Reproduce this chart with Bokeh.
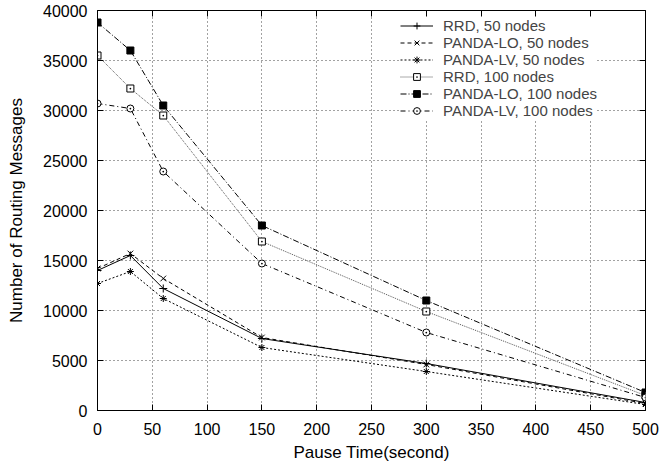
from bokeh.plotting import figure
from bokeh.models import Range1d, LinearAxis, FixedTicker, Legend, LegendItem, CustomJSTickFormatter
from bokeh.embed import file_html
from bokeh.resources import INLINE

pause = [0, 30, 60, 150, 300, 500]
rrd_50 = [14000, 15500, 12200, 7200, 4700, 800]
lo_50 = [14200, 15700, 13200, 7300, 4600, 700]
lv_50 = [12700, 13900, 11200, 6300, 3900, 600]
rrd_100 = [35500, 32200, 29500, 16900, 9900, 1500]
lo_100 = [38800, 36000, 30500, 18500, 11000, 1800]
lv_100 = [30700, 30200, 23900, 14700, 7800, 1300]

x_ticks = [0, 50, 100, 150, 200, 250, 300, 350, 400, 450, 500]
y_ticks = [0, 5000, 10000, 15000, 20000, 25000, 30000, 35000, 40000]

FONT = "Liberation Sans"

p = figure(width=659, height=465, output_backend="svg", toolbar_location=None,
           x_range=Range1d(0, 500), y_range=Range1d(0, 40000),
           min_border_left=97, min_border_right=14, min_border_top=10, min_border_bottom=55)
p.outline_line_color = "black"
p.outline_line_width = 1
p.background_fill_color = "white"
p.border_fill_color = "white"

for ax, ticks in ((p.xaxis[0], x_ticks), (p.yaxis[0], y_ticks)):
    ax.ticker = FixedTicker(ticks=ticks)
    ax.major_tick_in = 6
    ax.major_tick_out = 0
    ax.minor_tick_line_color = None
    ax.axis_line_color = "black"
    ax.major_label_text_font = FONT
    ax.major_label_text_font_size = "16px"
    ax.major_label_text_color = "black"
    ax.axis_label_text_font = FONT
    ax.axis_label_text_font_size = "17px"
    ax.axis_label_text_font_style = "normal"
    ax.axis_label_text_color = "black"

p.xaxis.axis_label = "Pause Time(second)"
p.yaxis.axis_label = "Number of Routing Messages"
p.xaxis.major_label_standoff = 12
p.yaxis.major_label_standoff = 10
p.xaxis.axis_label_standoff = 5
p.yaxis.axis_label_standoff = 14

for loc, ticks in (("above", x_ticks), ("right", y_ticks)):
    ax = LinearAxis(ticker=FixedTicker(ticks=ticks),
                    formatter=CustomJSTickFormatter(code="return ''"))
    ax.major_tick_in = 6
    ax.major_tick_out = 0
    ax.minor_tick_line_color = None
    ax.axis_line_color = None
    ax.major_label_standoff = 0
    p.add_layout(ax, loc)

for g in (p.xgrid[0], p.ygrid[0]):
    g.grid_line_color = "#444444"
    g.grid_line_dash = "1 3"
    g.grid_line_width = 1

series = [
    ("RRD, 50 nodes", rrd_50, "solid", "black", "cross", "black", 8),
    ("PANDA-LO, 50 nodes", lo_50, "4 3", "black", "x", "black", 8),
    ("PANDA-LV, 50 nodes", lv_50, "2 2", "black", "asterisk", "black", 7),
    ("RRD, 100 nodes", rrd_100, "1 1", "#555555", "square_dot", None, 7),
    ("PANDA-LO, 100 nodes", lo_100, "6 2 1 2", "black", "square", "black", 7),
    ("PANDA-LV, 100 nodes", lv_100, "5 3 1 3", "black", "circle_dot", None, 7),
]

items = []
for label, ys, dash, lcolor, marker, fill, sz in series:
    r1 = p.line(pause, ys, line_color=lcolor, line_dash=dash, line_width=1)
    r2 = p.scatter(pause, ys, marker=marker, size=sz, line_color="black",
                   fill_color=fill if fill else "white", line_width=1)
    items.append(LegendItem(label=label, renderers=[r1, r2]))

legend = Legend(items=items, location=(303, 291), padding=0, margin=0, spacing=0,
                glyph_width=33, glyph_height=17, label_height=17, label_standoff=10,
                label_text_font=FONT, label_text_font_size="15px",
                label_text_baseline="middle",
                border_line_color=None, background_fill_color="white",
                background_fill_alpha=1)
p.add_layout(legend, "center")

open("out.html", "w").write(file_html(p, INLINE))
